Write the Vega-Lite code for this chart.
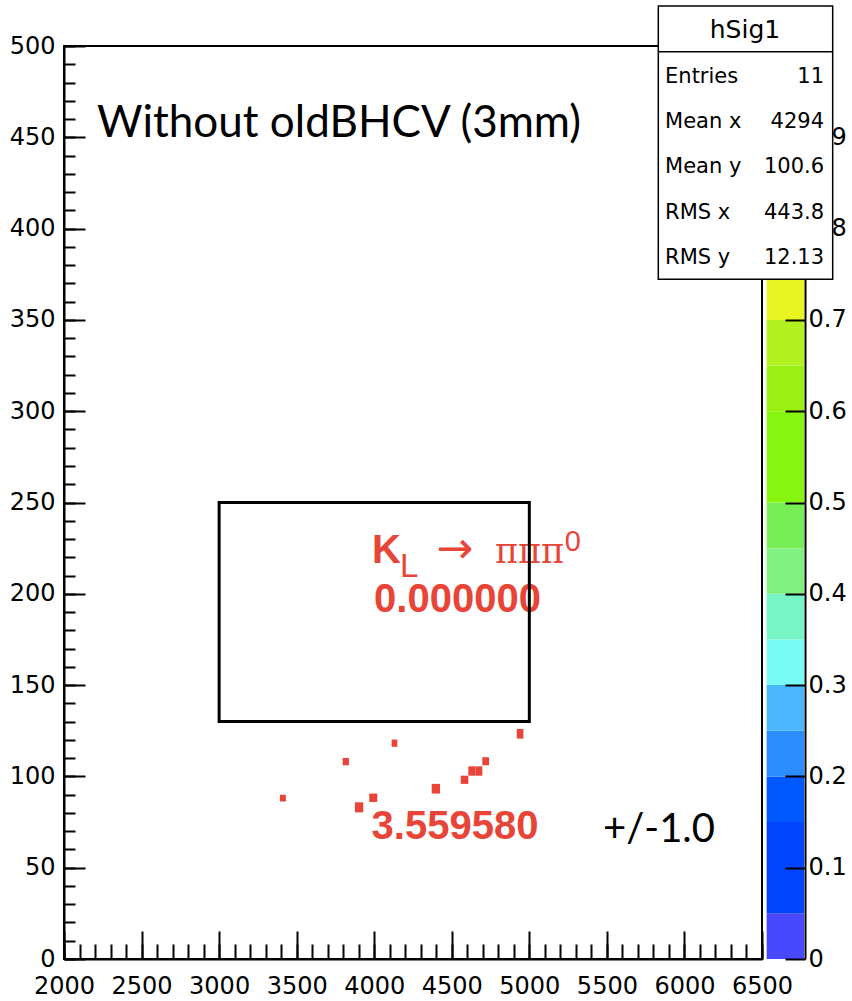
{
  "$schema": "https://vega.github.io/schema/vega-lite/v6.json",
  "width": 698,
  "height": 913,
  "autosize": "none",
  "padding": {"left": 64, "top": 46, "right": 90, "bottom": 42},
  "background": "white",
  "config": {
    "view": {"stroke": "black", "strokeWidth": 2},
    "axis": {
      "grid": false,
      "labelFont": "DejaVu Sans",
      "labelFontSize": 24,
      "labelColor": "black",
      "tickColor": "black",
      "tickWidth": 2,
      "domainColor": "black",
      "domainWidth": 2,
      "labelFlush": false,
      "labelOverlap": false
    }
  },
  "data": {"values": [{}]},
  "datasets": {
    "bins": [
      {"x1": 3391.8, "x2": 3430.5, "y1": 86.3, "y2": 90.0},
      {"x1": 3796.4, "x2": 3837.0, "y1": 106.1, "y2": 110.1},
      {"x1": 4112.5, "x2": 4148.7, "y1": 116.2, "y2": 120.2},
      {"x1": 3875.7, "x2": 3929.3, "y1": 80.3, "y2": 85.8},
      {"x1": 3968.0, "x2": 4019.6, "y1": 86.0, "y2": 90.6},
      {"x1": 4370.6, "x2": 4424.2, "y1": 90.6, "y2": 95.9},
      {"x1": 4557.8, "x2": 4606.8, "y1": 95.9, "y2": 100.4},
      {"x1": 4606.8, "x2": 4652.0, "y1": 100.4, "y2": 105.5},
      {"x1": 4652.0, "x2": 4697.1, "y1": 100.4, "y2": 105.5},
      {"x1": 4697.1, "x2": 4740.4, "y1": 106.1, "y2": 110.5},
      {"x1": 4919.0, "x2": 4961.7, "y1": 120.7, "y2": 126.0}
    ],
    "box": [{"x1": 3000, "x2": 5000, "y1": 130, "y2": 250}],
    "bands": [
      {"lo": 0, "hi": 0.05}, {"lo": 0.05, "hi": 0.15}, {"lo": 0.15, "hi": 0.2},
      {"lo": 0.2, "hi": 0.25}, {"lo": 0.25, "hi": 0.3}, {"lo": 0.3, "hi": 0.35},
      {"lo": 0.35, "hi": 0.4}, {"lo": 0.4, "hi": 0.45}, {"lo": 0.45, "hi": 0.5},
      {"lo": 0.5, "hi": 0.6}, {"lo": 0.6, "hi": 0.65}, {"lo": 0.65, "hi": 0.7},
      {"lo": 0.7, "hi": 0.75}, {"lo": 0.75, "hi": 0.8}, {"lo": 0.8, "hi": 0.85},
      {"lo": 0.85, "hi": 0.9}, {"lo": 0.9, "hi": 0.95}, {"lo": 0.95, "hi": 1}
    ]
  },
  "layer": [
    {
      "data": {"name": "bands"},
      "layer": [
        {
          "mark": {"type": "rect"},
          "encoding": {
            "x": {"datum": 6530, "type": "quantitative", "axis": null},
            "x2": {"datum": 6771},
            "y": {"field": "lo", "type": "quantitative", "scale": {"domain": [0, 1], "nice": false, "zero": false},
                  "axis": {"orient": "right", "title": null, "offset": 43, "ticks": false, "labels": true, "domain": true, "zindex": 0,
                           "values": [0, 0.1, 0.2, 0.3, 0.4, 0.5, 0.6, 0.7, 0.8, 0.9, 1], "format": "~g", "labelPadding": 3}},
            "y2": {"field": "hi"},
            "color": {"field": "lo", "type": "ordinal", "legend": null,
                      "scale": {"domain": [0, 0.05, 0.15, 0.2, 0.25, 0.3, 0.35, 0.4, 0.45, 0.5, 0.6, 0.65, 0.7, 0.75, 0.8, 0.85, 0.9, 0.95],
                                "range": ["#4848FF", "#0044FF", "#0058FF", "#2A8CFF", "#4CB6FF", "#7AFAF5", "#78F5C6", "#80F080", "#77EE55", "#88F510", "#9AF012", "#B2F020", "#E8F522", "#F8E020", "#F8C020", "#F8A020", "#F07020", "#E83020"]}}
          }
        },
        {
          "mark": {"type": "rect", "opacity": 0},
          "encoding": {
            "x": {"datum": 6530, "type": "quantitative", "axis": null},
            "x2": {"datum": 6771},
            "y": {"field": "lo", "type": "quantitative", "scale": {"domain": [0, 1], "nice": false, "zero": false},
                  "axis": {"orient": "right", "title": null, "offset": 43, "ticks": true, "tickSize": -20, "labels": false, "domain": false, "zindex": 1,
                           "values": [0, 0.1, 0.2, 0.3, 0.4, 0.5, 0.6, 0.7]}},
            "y2": {"field": "hi"}
          }
        }
      ],
      "resolve": {"axis": {"y": "independent"}}
    },
    {
      "layer": [
        {
          "data": {"name": "bins"},
          "mark": {"type": "rect", "color": "#E84438"},
          "encoding": {
            "x": {"field": "x1", "type": "quantitative", "scale": {"domain": [2000, 6500], "nice": false, "zero": false},
                  "axis": {"orient": "bottom", "title": null, "values": [2000, 2500, 3000, 3500, 4000, 4500, 5000, 5500, 6000, 6500],
                           "tickSize": -28, "labelPadding": 43, "format": "d"}},
            "x2": {"field": "x2"},
            "y": {"field": "y1", "type": "quantitative", "scale": {"domain": [0, 500], "nice": false, "zero": false},
                  "axis": {"orient": "left", "title": null, "values": [0, 50, 100, 150, 200, 250, 300, 350, 400, 450, 500],
                           "tickSize": -21, "labelPadding": 30, "format": "d"}},
            "y2": {"field": "y2"}
          }
        },
        {
          "mark": {"type": "text", "text": "Without oldBHCV (3mm)", "font": "Lato", "fontSize": 44, "color": "black", "align": "left", "baseline": "alphabetic"},
          "encoding": {"x": {"datum": 2213, "type": "quantitative", "axis": null}, "y": {"datum": 450.0, "type": "quantitative", "axis": null}}
        },
        {
          "mark": {"type": "text", "text": "K", "font": "Liberation Sans", "fontWeight": "bold", "fontSize": 40, "color": "#E84438", "align": "left", "baseline": "alphabetic"},
          "encoding": {"x": {"datum": 3986, "type": "quantitative", "axis": null}, "y": {"datum": 216.7, "type": "quantitative", "axis": null}}
        },
        {
          "mark": {"type": "text", "text": "L", "font": "Liberation Sans", "fontSize": 33, "color": "#E84438", "align": "left", "baseline": "alphabetic"},
          "encoding": {"x": {"datum": 4166, "type": "quantitative", "axis": null}, "y": {"datum": 209.4, "type": "quantitative", "axis": null}}
        },
        {
          "mark": {"type": "text", "text": "→", "font": "DejaVu Sans", "fontWeight": "normal", "fontSize": 44, "color": "#E84438", "align": "left", "baseline": "alphabetic"},
          "encoding": {"x": {"datum": 4400, "type": "quantitative", "axis": null}, "y": {"datum": 216.7, "type": "quantitative", "axis": null}}
        },
        {
          "mark": {"type": "text", "text": "πππ", "font": "DejaVu Serif", "fontSize": 35, "color": "#E84438", "align": "left", "baseline": "alphabetic"},
          "encoding": {"x": {"datum": 4779, "type": "quantitative", "axis": null}, "y": {"datum": 216.7, "type": "quantitative", "axis": null}}
        },
        {
          "mark": {"type": "text", "text": "0", "font": "Liberation Sans", "fontSize": 29, "color": "#E84438", "align": "left", "baseline": "alphabetic"},
          "encoding": {"x": {"datum": 5228, "type": "quantitative", "axis": null}, "y": {"datum": 223.6, "type": "quantitative", "axis": null}}
        },
        {
          "mark": {"type": "text", "text": "0.000000", "font": "Liberation Sans", "fontWeight": "bold", "fontSize": 40, "color": "#E84438", "align": "left", "baseline": "alphabetic"},
          "encoding": {"x": {"datum": 3999, "type": "quantitative", "axis": null}, "y": {"datum": 190.2, "type": "quantitative", "axis": null}}
        },
        {
          "mark": {"type": "text", "text": "3.559580", "font": "Liberation Sans", "fontWeight": "bold", "fontSize": 40, "color": "#E84438", "align": "left", "baseline": "alphabetic"},
          "encoding": {"x": {"datum": 3983, "type": "quantitative", "axis": null}, "y": {"datum": 65.6, "type": "quantitative", "axis": null}}
        },
        {
          "mark": {"type": "text", "text": "+/-1.0", "font": "Lato", "fontSize": 40, "color": "black", "align": "left", "baseline": "alphabetic"},
          "encoding": {"x": {"datum": 5475, "type": "quantitative", "axis": null}, "y": {"datum": 64.2, "type": "quantitative", "axis": null}}
        },
        {
          "data": {"name": "box"},
          "mark": {"type": "rect", "filled": false, "color": "black", "strokeWidth": 3},
          "encoding": {
            "x": {"field": "x1", "type": "quantitative",
                  "axis": {"orient": "bottom", "title": null, "labels": false, "domain": false, "tickSize": -15,
                           "values": [2000, 2100, 2200, 2300, 2400, 2500, 2600, 2700, 2800, 2900, 3000, 3100, 3200, 3300, 3400, 3500, 3600, 3700, 3800, 3900, 4000, 4100, 4200, 4300, 4400, 4500, 4600, 4700, 4800, 4900, 5000, 5100, 5200, 5300, 5400, 5500, 5600, 5700, 5800, 5900, 6000, 6100, 6200, 6300, 6400, 6500]}},
            "x2": {"field": "x2"},
            "y": {"field": "y1", "type": "quantitative",
                  "axis": {"orient": "left", "title": null, "labels": false, "domain": false, "tickSize": -11,
                           "values": [0, 10, 20, 30, 40, 50, 60, 70, 80, 90, 100, 110, 120, 130, 140, 150, 160, 170, 180, 190, 200, 210, 220, 230, 240, 250, 260, 270, 280, 290, 300, 310, 320, 330, 340, 350, 360, 370, 380, 390, 400, 410, 420, 430, 440, 450, 460, 470, 480, 490, 500]}},
            "y2": {"field": "y2"}
          }
        },
        {
          "mark": {"type": "rect", "fill": "white", "stroke": "black", "strokeWidth": 1.5},
          "encoding": {
            "x": {"datum": 5831.5, "type": "quantitative", "axis": null}, "x2": {"datum": 6955.7},
            "y": {"datum": 372.2, "type": "quantitative", "axis": null}, "y2": {"datum": 521.9}
          }
        },
        {
          "mark": {"type": "rule", "stroke": "black", "strokeWidth": 1.5},
          "encoding": {
            "x": {"datum": 5831.5, "type": "quantitative", "axis": null}, "x2": {"datum": 6955.7},
            "y": {"datum": 496.9, "type": "quantitative", "axis": null}
          }
        },
        {
          "mark": {"type": "text", "text": "hSig1", "font": "DejaVu Sans", "fontSize": 25, "color": "black", "align": "center", "baseline": "middle"},
          "encoding": {"x": {"datum": 6390, "type": "quantitative", "axis": null}, "y": {"datum": 508.8, "type": "quantitative", "axis": null}}
        },
        {
          "mark": {"type": "text", "text": ["Entries", "Mean x", "Mean y", "RMS x", "RMS y"], "lineHeight": 45.4, "font": "DejaVu Sans", "fontSize": 21, "color": "black", "align": "left", "baseline": "middle"},
          "encoding": {"x": {"datum": 5875, "type": "quantitative", "axis": null}, "y": {"datum": 483.2, "type": "quantitative", "axis": null}}
        },
        {
          "mark": {"type": "text", "text": ["11", "4294", "100.6", "443.8", "12.13"], "lineHeight": 45.4, "font": "DejaVu Sans", "fontSize": 21, "color": "black", "align": "right", "baseline": "middle"},
          "encoding": {"x": {"datum": 6900, "type": "quantitative", "axis": null}, "y": {"datum": 483.2, "type": "quantitative", "axis": null}}
        }
      ],
      "resolve": {"axis": {"x": "independent", "y": "independent"}}
    }
  ],
  "resolve": {"scale": {"y": "independent"}}
}
